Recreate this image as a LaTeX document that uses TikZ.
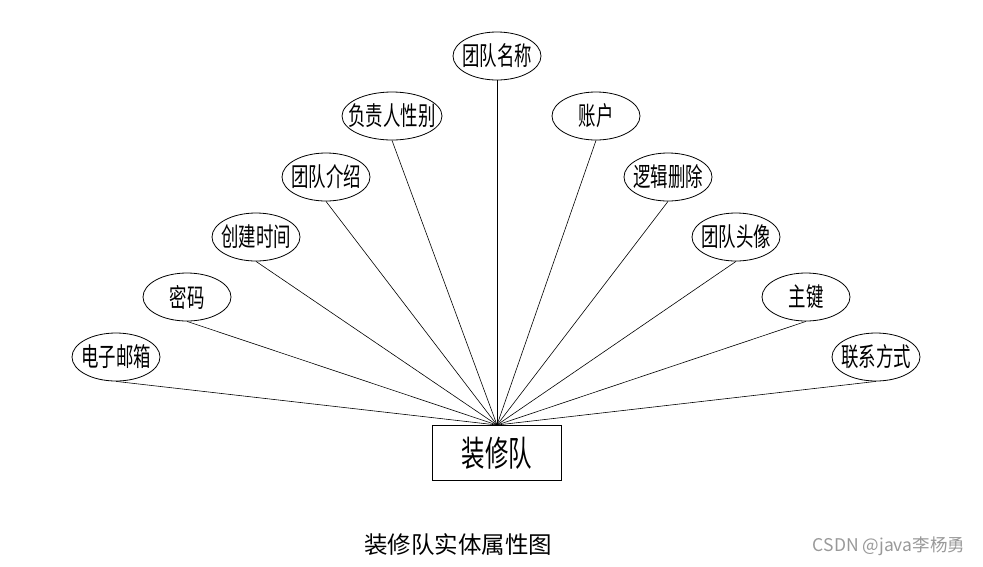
\documentclass[tikz,border=0pt]{standalone}
\usepackage{fontspec}
\setmainfont{Noto Sans CJK SC}
\newfontfamily\narrowcjk[FakeStretch=0.67]{Noto Sans CJK SC}
\newfontfamily\entitycjk[FakeStretch=0.67]{Noto Sans CJK SC}
\usetikzlibrary{shapes.geometric}
\begin{document}
\begin{tikzpicture}[
	x=1pt,y=-1pt,
	attr/.style={draw,ellipse,line width=0.8pt,inner sep=0pt,minimum height=48pt,font=\narrowcjk\fontsize{26}{26}\selectfont},
	entity/.style={draw,line width=1pt,minimum width=129pt,minimum height=55pt,font=\entitycjk\fontsize{35}{35}\selectfont},
	link/.style={line width=0.6pt}
]
\useasboundingbox (0,0) rectangle (983,566);
%entity
\node[entity] (team) at (497,453){\makebox[0pt]{装修队}};
%attributes
\foreach \name/\x/\y/\w/\txt in {
	mail/116/357/88/电子邮箱,
	pwd/187/297/88/密码,
	ctime/256/237/88/创建时间,
	intro/326/177/88/团队介绍,
	sex/392/116/100/负责人性别,
	tname/497/56/88/团队名称,
	acct/596/116/88/账户,
	del/668/177/88/逻辑删除,
	avatar/736/237/88/团队头像,
	key/806/297/88/主键,
	phone/876/357/88/联系方式}{
	\node[attr,minimum width=\w pt] (\name) at (\x,\y){\makebox[0pt]{\txt}};
	\draw[link] (team.north) -- (\name.south);
}
%caption
\node[font=\fontsize{23.5}{23.5}\selectfont] (caption) at (458,545){装修队实体属性图};
\node[text=black!40,font=\fontsize{17.5}{17.5}\selectfont] (mark) at (889,546){CSDN @java李杨勇};
\end{tikzpicture}
\end{document}
